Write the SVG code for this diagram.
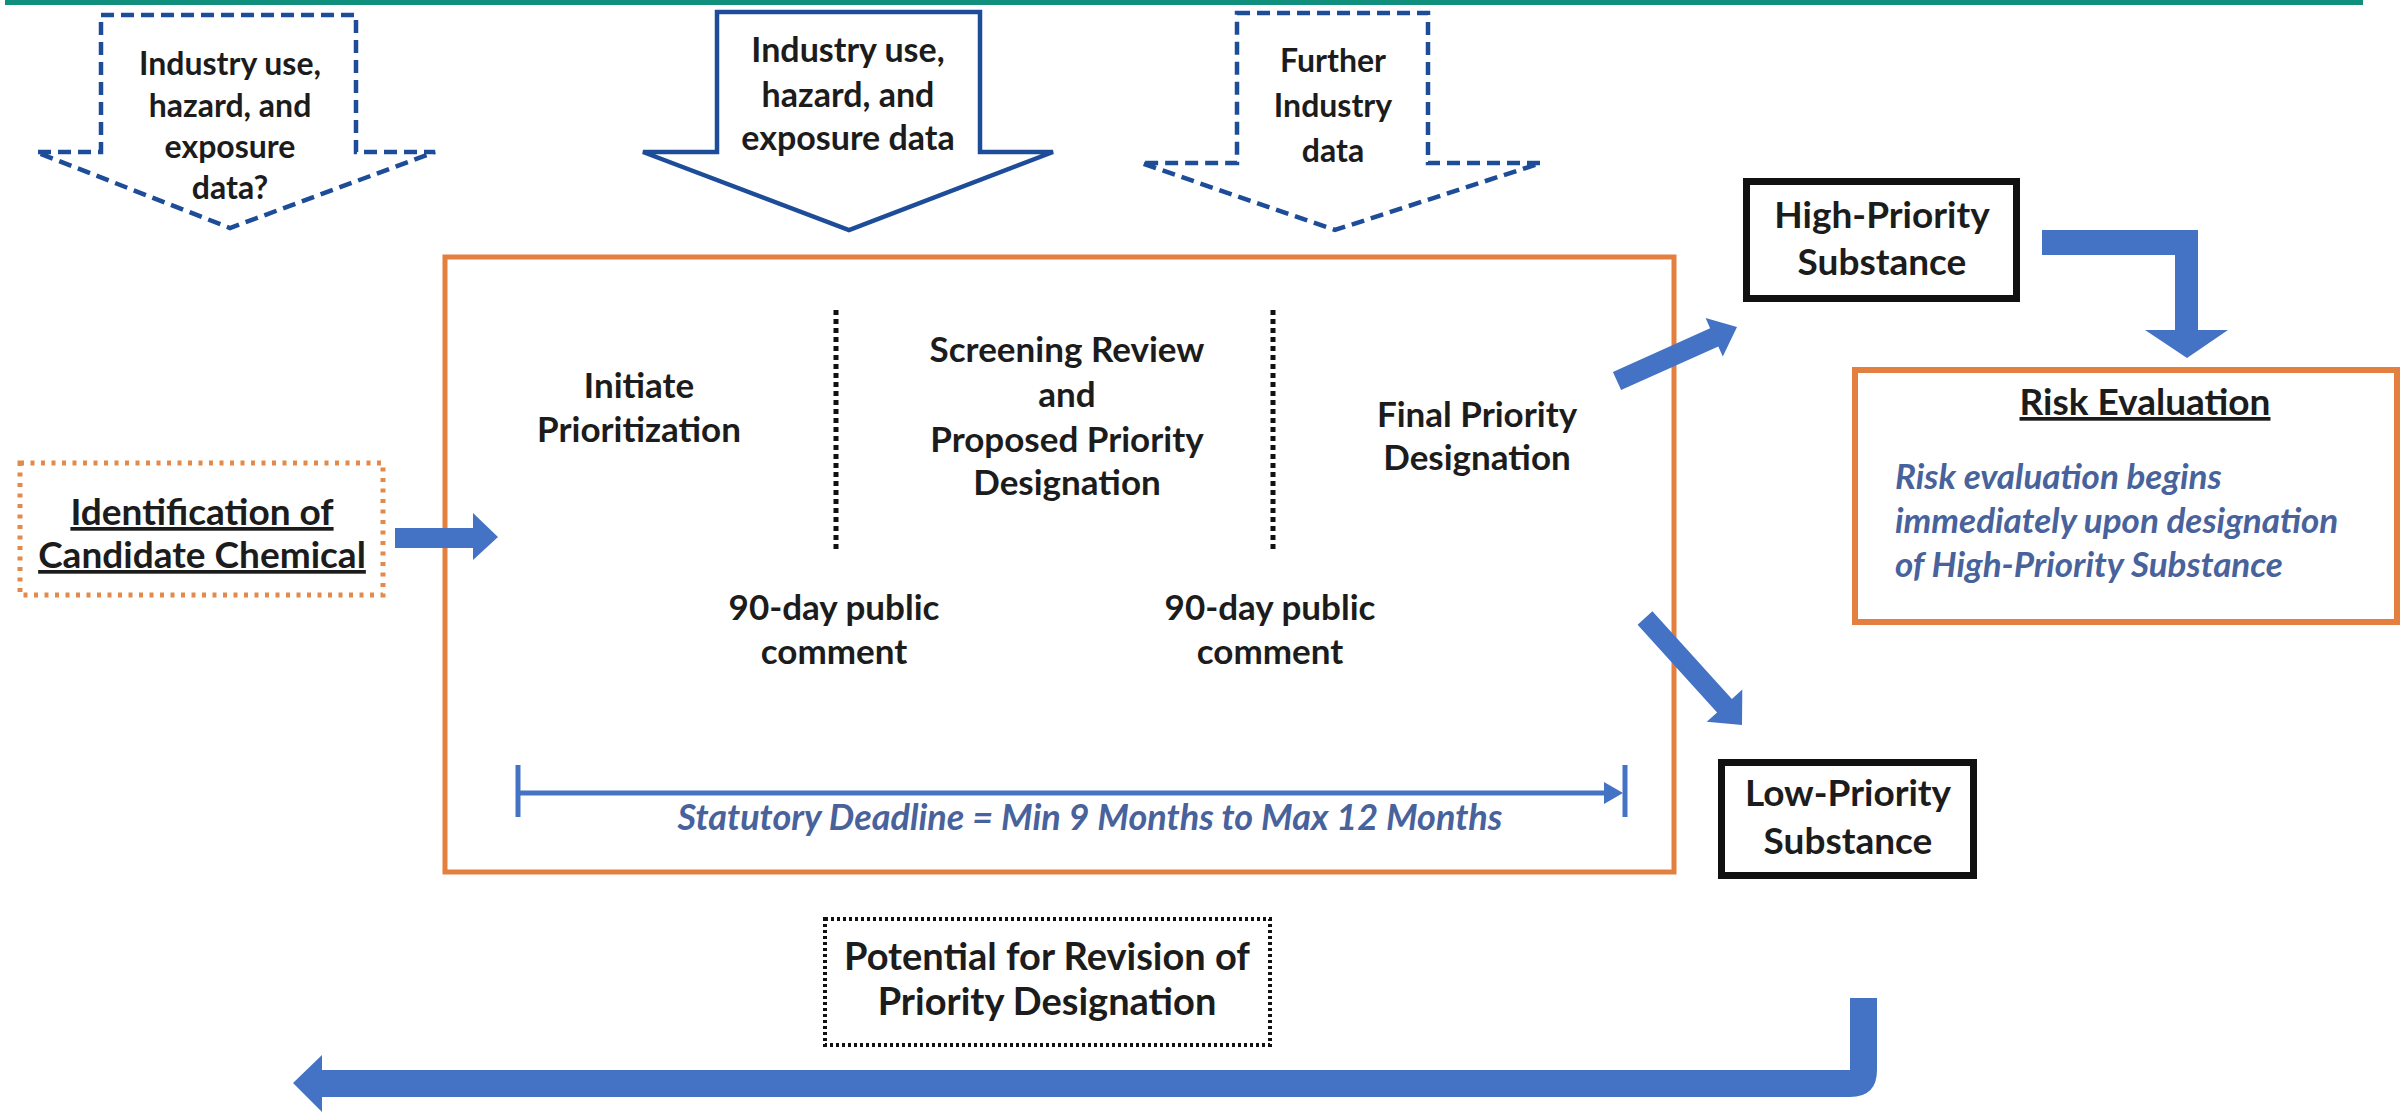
<svg xmlns="http://www.w3.org/2000/svg" width="2407" height="1113" viewBox="0 0 2407 1113">
<style>
text { font-family: Lato, "Open Sans", "Liberation Sans", sans-serif; font-weight: bold; fill: #1c1c1c; text-anchor: middle; }
.t32 { font-size: 32px; }
.t34 { font-size: 34px; }
.t35 { font-size: 35px; }
.t37 { font-size: 37px; }
.t38 { font-size: 38px; }
.it { font-style: italic; fill: #48629c; }
.ul { text-decoration: underline; }
.dash { fill: #ffffff; stroke: #1d4c99; stroke-width: 4.5; stroke-dasharray: 13 7; stroke-linejoin: miter; }
.solidarr { fill: #ffffff; stroke: #1d4c99; stroke-width: 4.5; stroke-linejoin: miter; }
.blue { fill: #4472c4; }
.orange { fill: none; stroke: #e3803f; stroke-width: 5; }
.blk { fill: #ffffff; stroke: #111111; stroke-width: 7; }
.dots { stroke: #111111; stroke-width: 5; stroke-dasharray: 5 4; }
</style>
<rect x="5" y="0" width="2358" height="5" fill="#10907c"/>

<g id="input-arrow-1">
<path class="dash" d="M101,15 L356,15 L356,152 L435,152 L230,228 L36,152 L101,152 Z"/>
<text class="t32" x="230" y="75">Industry use,</text>
<text class="t32" x="230" y="117">hazard, and</text>
<text class="t32" x="230" y="158">exposure</text>
<text class="t32" x="230" y="199">data?</text>
</g>

<g id="input-arrow-2">
<path class="solidarr" d="M717,12 L980,12 L980,152 L1053,152 L849,230 L643,152 L717,152 Z"/>
<text class="t34" x="848" y="62">Industry use,</text>
<text class="t34" x="848" y="107">hazard, and</text>
<text class="t34" x="848" y="150">exposure data</text>
</g>

<g id="input-arrow-3">
<path class="dash" d="M1237,13 L1428,13 L1428,163 L1541,163 L1335,230 L1141,163 L1237,163 Z"/>
<text class="t32" x="1333" y="72">Further</text>
<text class="t32" x="1333" y="117">Industry</text>
<text class="t32" x="1333" y="162">data</text>
</g>

<g id="candidate">
<rect x="20" y="463" width="363" height="132" fill="none" stroke="#e38a4a" stroke-width="5" stroke-dasharray="4 6.5"/>
<text class="t37 ul" x="202" y="525">Identification of</text>
<text class="t37 ul" x="202" y="568">Candidate Chemical</text>
</g>

<g id="prioritization">
<rect class="orange" x="445" y="257" width="1229" height="615" fill="#ffffff"/>
<line class="dots" x1="836" y1="310" x2="836" y2="552"/>
<line class="dots" x1="1273" y1="310" x2="1273" y2="552"/>
<text class="t35" x="639" y="398">Initiate</text>
<text class="t35" x="639" y="442">Prioritization</text>
<text class="t35" x="1067" y="362">Screening Review</text>
<text class="t35" x="1067" y="407">and</text>
<text class="t35" x="1067" y="452">Proposed Priority</text>
<text class="t35" x="1067" y="495">Designation</text>
<text class="t35" x="1477" y="427">Final Priority</text>
<text class="t35" x="1477" y="470">Designation</text>
<text class="t35" x="834" y="620">90-day public</text>
<text class="t35" x="834" y="664">comment</text>
<text class="t35" x="1270" y="620">90-day public</text>
<text class="t35" x="1270" y="664">comment</text>
<line x1="518" y1="793" x2="1608" y2="793" stroke="#4472c4" stroke-width="5"/>
<line x1="518" y1="765" x2="518" y2="817" stroke="#4472c4" stroke-width="5"/>
<line x1="1625" y1="765" x2="1625" y2="817" stroke="#4472c4" stroke-width="5"/>
<polygon class="blue" points="1604,782 1623,793 1604,804"/>
<text class="it" style="font-size:36px" x="1090" y="830">Statutory Deadline = Min 9 Months to Max 12 Months</text>
</g>

<g id="high-priority">
<rect class="blk" x="1746.5" y="181.5" width="270" height="117"/>
<text class="t37" x="1882" y="228">High-Priority</text>
<text class="t37" x="1882" y="275">Substance</text>
</g>

<g id="risk-evaluation">
<rect x="1855" y="370" width="542" height="252" fill="none" stroke="#e3803f" stroke-width="6"/>
<text class="t37 ul" x="2145" y="415">Risk Evaluation</text>
<text class="it" x="1895" y="489" style="text-anchor:start;font-size:35px">Risk evaluation begins</text>
<text class="it" x="1895" y="533" style="text-anchor:start;font-size:35px">immediately upon designation</text>
<text class="it" x="1895" y="577" style="text-anchor:start;font-size:35px">of High-Priority Substance</text>
</g>

<g id="low-priority">
<rect class="blk" x="1721.5" y="762.5" width="252" height="113"/>
<text class="t37" x="1848" y="806">Low-Priority</text>
<text class="t37" x="1848" y="854">Substance</text>
</g>

<g id="revision">
<rect x="825" y="919" width="445" height="126" fill="none" stroke="#111111" stroke-width="4" stroke-dasharray="3 3"/>
<text class="t38" x="1047" y="970">Potential for Revision of</text>
<text class="t38" x="1047" y="1015">Priority Designation</text>
</g>

<g id="connectors">
<polygon class="blue" points="395,528 473,528 473,513 498,537 473,560 473,548 395,548"/>
<polygon class="blue" points="1612.9,371.9 1710.1,328.2 1705.6,318.1 1737,327 1722.8,356.5 1718.3,346.4 1621.1,390.1"/>
<polygon class="blue" points="1652.4,611.3 1731.9,699 1742.3,689.6 1742,725 1706.7,721.8 1717.1,712.4 1637.6,624.7"/>
<polygon class="blue" points="2042,230 2198,230 2198,330 2228,330 2187,358 2145,330 2175,330 2175,255 2042,255"/>
<path class="blue" d="M1877,998 L1877,1070 Q1877,1097 1850,1097 L322,1097 L322,1112 L293,1083 L322,1055 L322,1070 L1850,1070 L1850,998 Z"/>
</g>
</svg>
